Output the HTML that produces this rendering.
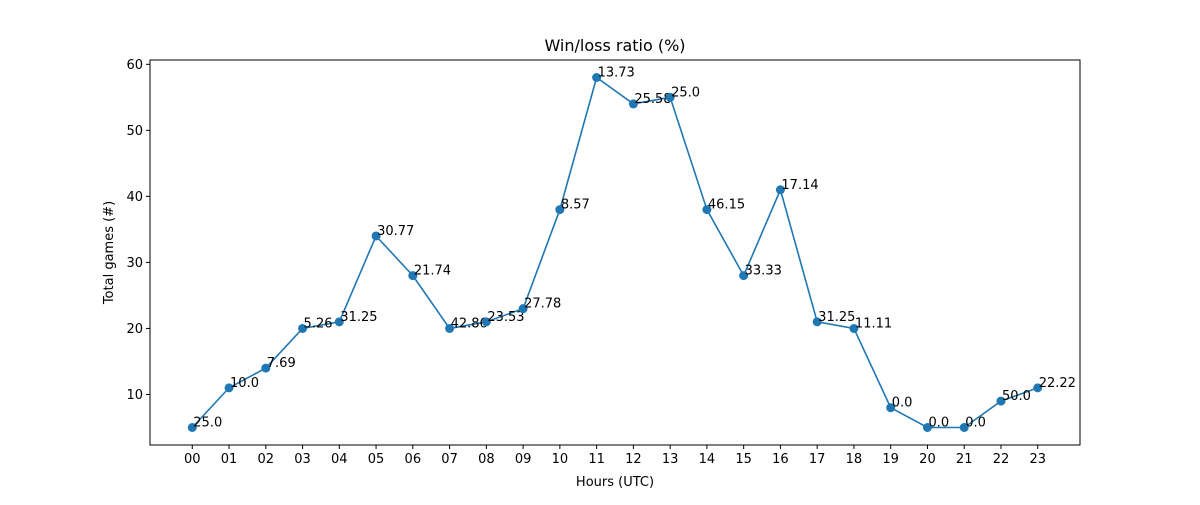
<!DOCTYPE html>
<html><head><meta charset="utf-8"><style>
body{margin:0;background:#fff;}
svg{font-family:"DejaVu Sans","Liberation Sans",sans-serif;}
</style></head><body>
<svg id="chart" width="1200" height="500">
<rect width="1200" height="500" fill="#fff"/>
<g id="plot"></g>
</svg>
<script>
const hours=["00","01","02","03","04","05","06","07","08","09","10","11","12","13","14","15","16","17","18","19","20","21","22","23"];
const games=[5,11,14,20,21,34,28,20,21,23,38,58,54,55,38,28,41,21,20,8,5,5,9,11];
const ratios=["25.0","10.0","7.69","5.26","31.25","30.77","21.74","42.86","23.53","27.78","8.57","13.73","25.58","25.0","46.15","33.33","17.14","31.25","11.11","0.0","0.0","0.0","50.0","22.22"];
const yTicks=[10,20,30,40,50,60];
const L=150,R=1080,T=60,B=445;
const xMin=-1.15,xMax=24.15;
const yMin=Math.min(...games),yMax=Math.max(...games),pad=(yMax-yMin)*0.05;
const y0=yMin-pad,y1=yMax+pad;
const xs=i=>L+(i-xMin)/(xMax-xMin)*(R-L);
const ys=v=>B-(v-y0)/(y1-y0)*(B-T);
const ns="http://www.w3.org/2000/svg";
const g=document.getElementById('plot');
function mk(t,a,txt){const e=document.createElementNS(ns,t);for(const k in a)e.setAttribute(k,a[k]);if(txt!==undefined)e.textContent=txt;g.appendChild(e);return e;}
let e=mk('rect',{x:L,y:T,width:R-L,height:B-T,fill:'none',stroke:'#000','stroke-width':1});


hours.forEach((h,i)=>{const x=xs(i);
e=mk('line',{x1:x,x2:x,y1:B,y2:B+4,stroke:'#000'});


e=mk('text',{x:x,y:B+18,'text-anchor':'middle','font-size':13},h);


});
yTicks.forEach(v=>{const y=ys(v);
e=mk('line',{x1:L-4,x2:L,y1:y,y2:y,stroke:'#000'});


e=mk('text',{x:L-7,y:y+4.5,'text-anchor':'end','font-size':13},String(v));


});
e=mk('polyline',{points:games.map((v,i)=>xs(i)+','+ys(v)).join(' '),fill:'none',stroke:'#1f77b4','stroke-width':1.6});


games.forEach((v,i)=>{
e=mk('circle',{cx:xs(i),cy:ys(v),r:4.5,fill:'#1f77b4'});


e=mk('text',{x:xs(i)+1,y:ys(v)-1,'font-size':13},ratios[i]);


});
e=mk('text',{x:(L+R)/2,y:51,'text-anchor':'middle','font-size':16},'Win/loss ratio (%)');


e=mk('text',{x:(L+R)/2,y:486,'text-anchor':'middle','font-size':13},'Hours (UTC)');


e=mk('text',{x:113,y:(T+B)/2,'text-anchor':'middle','font-size':13,transform:'rotate(-90 113 '+(T+B)/2+')'},'Total games (#)');


</script>
</body></html>
